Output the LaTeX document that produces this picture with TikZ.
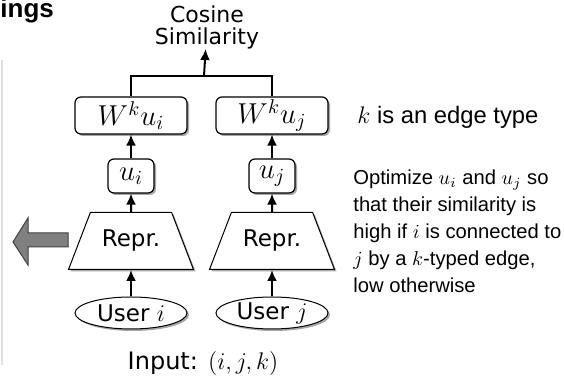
\documentclass[tikz,border=0pt]{standalone}
\usepackage{amssymb,amsmath}
\usepackage{fontspec}
\setmainfont{DejaVu Sans}
\newfontfamily\arialfont{Liberation Sans}
\usetikzlibrary{shapes.geometric,shadows,arrows.meta}

\begin{document}
\begin{tikzpicture}[x=0.5pt,y=-0.5pt,
		shade/.style={drop shadow={shadow xshift=1pt,shadow yshift=-1pt,fill=black,opacity=0.35}},
		box/.style={draw,rounded corners=3pt,fill=white,line width=0.6pt,inner sep=0pt,shade},
		repr/.style={draw,trapezium,trapezium angle=69,trapezium stretches body,minimum width=62.5pt,inner xsep=0pt,inner ysep=8.65pt,text height=8.5pt,text depth=2.7pt,fill=white,line width=0.5pt,shade,font=\fontsize{11.5}{13}\selectfont},
		user/.style={draw,ellipse,minimum width=56pt,minimum height=16pt,inner sep=0pt,fill=white,line width=0.5pt,shade,font=\fontsize{11.5}{13}\selectfont},
		up/.style={-{Latex[length=5.5pt,width=5pt]},line width=1pt}]

		\useasboundingbox (0,0) rectangle (564,383);

		\node[anchor=base west,inner sep=0pt,font=\arialfont\bfseries\fontsize{13}{15}\selectfont] (title) at (0,18) {ings};
		\draw[black!12,line width=0.6pt] (2,60) -- (2,365);
		\draw[fill=black!50,draw=black!75,line width=0.5pt] (13,242) -- (28,218) -- (28,233) -- (68,233) -- (68,247) -- (28,247) -- (28,265) -- cycle;

		\node[align=center,inner sep=0pt,font=\fontsize{11}{11}\selectfont] (cos) at (207,27) {Cosine\\Similarity};

		\node[box,minimum width=56pt,minimum height=18.5pt,font=\fontsize{14}{16}\selectfont] (w1) at (131,115.5) {$W^k u_i$};
		\node[box,minimum width=56pt,minimum height=18.5pt,font=\fontsize{14}{16}\selectfont] (w2) at (272,115.5) {$W^k u_j$};

		\node[box,minimum width=23pt,minimum height=17pt,font=\fontsize{14}{16}\selectfont] (u1) at (131,176) {$u_i$};
		\node[box,minimum width=23pt,minimum height=17pt,font=\fontsize{14}{16}\selectfont] (u2) at (272,176) {$u_j$};

		\node[repr] (r1) at (131,241) {Repr.};
		\node[repr] (r2) at (272,241) {Repr.};

		\node[user] (e1) at (131,313) {User $i$};
		\node[user] (e2) at (272,313) {User $j$};

		\node[inner sep=0pt,font=\fontsize{12}{14}\selectfont] (input) at (203,364) {Input: $(i,j,k)$};

		\coordinate (join) at (204,76);

		\draw[up] (e1) to (r1); \draw[up] (e2) to (r2);
		\draw[up] (r1) to (u1); \draw[up] (r2) to (u2);
		\draw[up] (u1) to (w1); \draw[up] (u2) to (w2);
		\draw[line width=1pt] (w1.north) |- (join) -| (w2.north);
		\draw[up] (join) to (cos);

		\node[anchor=west,inner sep=0pt,font=\arialfont\fontsize{11.9}{14}\selectfont] (ktype) at (357,117) {$k$ is an edge type};
		\node[anchor=north west,inner sep=0pt,align=left,font=\arialfont\fontsize{10.1}{13.5}\selectfont] (note) at (353,169) {Optimize $u_i$ and $u_j$ so\\that their similarity is\\high if $i$ is connected to\\$j$ by a $k$-typed edge,\\low otherwise};

	\end{tikzpicture}
\end{document}
